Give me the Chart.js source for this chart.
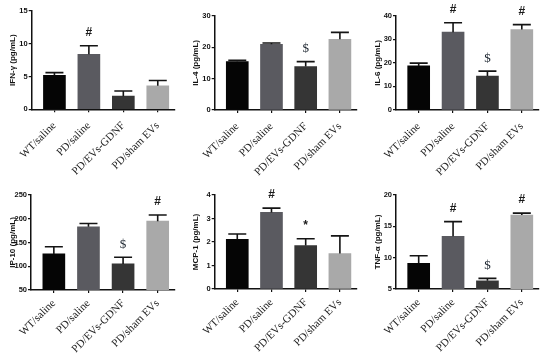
<!DOCTYPE html>
<html>
<head>
<meta charset="utf-8">
<script src="https://cdn.jsdelivr.net/npm/chart.js@4"></script>
<style>
  body { margin: 0; background: #fff; }
  #wrap { position: relative; width: 550px; height: 353px; overflow: hidden; }
  #wrap canvas { position: absolute; }
</style>
</head>
<body>
<div id="wrap">
  <canvas id="c1"></canvas>
  <canvas id="c2"></canvas>
  <canvas id="c3"></canvas>
  <canvas id="c4"></canvas>
  <canvas id="c5"></canvas>
  <canvas id="c6"></canvas>
</div>
<script>
// groups (x categories)
const groups = ['WT/saline', 'PD/saline', 'PD/EVs-GDNF', 'PD/sham EVs'];
const barColors = ['#050505', '#5a5a60', '#353535', '#a9a9a9'];

// means and upper error (SEM)
const ifnMean = [5.2, 8.4, 2.0, 3.6];
const ifnErr = [0.4, 1.3, 0.8, 0.8];
const ifnMarks = ['', '#', '', ''];

const il4Mean = [15.4, 20.9, 13.8, 22.5];
const il4Err = [0.4, 0.4, 1.6, 2.2];
const il4Marks = ['', '', '$', ''];

const il6Mean = [18.7, 33.0, 14.4, 34.1];
const il6Err = [1.2, 4.0, 2.1, 2.1];
const il6Marks = ['', '#', '$', '#'];

const ip10Mean = [126, 183, 105, 195];
const ip10Err = [15, 7, 14, 13];
const ip10Marks = ['', '', '$', '#'];

const mcpMean = [2.11, 3.26, 1.85, 1.51];
const mcpErr = [0.23, 0.18, 0.29, 0.75];
const mcpMarks = ['', '#', '*', ''];

const tnfMean = [9.1, 13.4, 6.3, 16.8];
const tnfErr = [1.2, 2.35, 0.4, 0.3];
const tnfMarks = ['', '#', '$', '#'];

// y axis ranges: [min, max, step]
const ifnAxis = [0, 15, 5];
const il4Axis = [0, 30, 10];
const il6Axis = [0, 40, 10];
const ip10Axis = [50, 250, 50];
const mcpAxis = [0, 4, 1];
const tnfAxis = [5, 20, 5];

const panels = [
    { id: 'c1', title: 'IFN-γ (pg/mL)', mean: ifnMean, err: ifnErr, marks: ifnMarks, axis: ifnAxis },
    { id: 'c2', title: 'IL-4 (pg/mL)', mean: il4Mean, err: il4Err, marks: il4Marks, axis: il4Axis },
    { id: 'c3', title: 'IL-6 (pg/mL)', mean: il6Mean, err: il6Err, marks: il6Marks, axis: il6Axis },
    { id: 'c4', title: 'IP-10 (pg/mL)', mean: ip10Mean, err: ip10Err, marks: ip10Marks, axis: ip10Axis },
    { id: 'c5', title: 'MCP-1 (pg/mL)', mean: mcpMean, err: mcpErr, marks: mcpMarks, axis: mcpAxis },
    { id: 'c6', title: 'TNF-α (pg/mL)', mean: tnfMean, err: tnfErr, marks: tnfMarks, axis: tnfAxis }
];

// canvas placement and plot box (local px): left, top, w, h, axisX, plotTop, plotBottom, plotRight, labelPad
const boxes = [
    [0, 0, 183, 176, 31.7, 11, 109.3, 175, 7],
    [183, 0, 182, 176, 31.7, 15.7, 110, 174, 7],
    [365, 0, 185, 176, 31, 15.7, 110, 174, 7],
    [0, 176, 183, 177, 31, 19, 114, 175, 4],
    [183, 176, 182, 177, 31.7, 19, 113, 174, 4],
    [365, 176, 185, 177, 31, 19, 113, 174, 4]
];

// ------------------------------------------------------------------------------------

const errorBars = {
    id: 'errorBars',
    afterDatasetsDraw(chart) {
        const ctx = chart.ctx;
        const y = chart.scales.y;
        const ds = chart.data.datasets[0];
        const meta = chart.getDatasetMeta(0);
        ctx.save();
        meta.data.forEach((bar, i) => {
            const top = y.getPixelForValue(ds.data[i].y + ds.err[i]);
            ctx.strokeStyle = '#141414';
            ctx.lineWidth = 1.6;
            ctx.beginPath();
            ctx.moveTo(bar.x, bar.y);
            ctx.lineTo(bar.x, top);
            ctx.moveTo(bar.x - 9, top);
            ctx.lineTo(bar.x + 9, top);
            ctx.stroke();

            if (ds.marks[i]) {
                ctx.fillStyle = ds.marks[i] === '$' ? '#1d2630' : '#1a1a1a';
                ctx.font = ds.marks[i] === '$' ? '13px "Liberation Serif"' : 'bold 12px "Liberation Sans"';
                ctx.textAlign = 'center';
                ctx.textBaseline = 'middle';
                ctx.fillText(ds.marks[i], bar.x, top - 13);
            }
        });
        ctx.restore();
    }
};

panels.forEach((p, k) => {
    const b = boxes[k];
    const canvas = document.getElementById(p.id);
    canvas.width = b[2];
    canvas.height = b[3];
    canvas.style.left = b[0] + 'px';
    canvas.style.top = b[1] + 'px';

    new Chart(canvas.getContext('2d'), {
        type: 'bar',
        data: {
            datasets: [{
                data: p.mean.map((v, i) => ({ x: i, y: v })),
                err: p.err,
                marks: p.marks,
                backgroundColor: barColors,
                barThickness: 22
            }]
        },
        options: {
            responsive: false,
            animation: false,
            devicePixelRatio: 1,
            layout: { padding: { top: b[5], right: b[2] - b[7], left: 0, bottom: 0 } },
            plugins: { legend: { display: false }, tooltip: { enabled: false } },
            scales: {
                x: {
                    type: 'linear',
                    offset: false,
                    min: -0.66,
                    max: 3.5,
                    grid: { offset: false, drawOnChartArea: false, tickLength: 3, color: '#111', lineWidth: 1.2 },
                    border: { color: '#111', width: 1.5 },
                    ticks: {
                        stepSize: 1,
                        includeBounds: false,
                        autoSkip: false,
                        maxRotation: 45,
                        minRotation: 45,
                        padding: b[8],
                        color: '#222',
                        font: { family: 'Liberation Serif', size: 11 },
                        callback: v => groups[v] ?? ''
                    },
                    afterFit: s => { s.height = b[3] - b[6]; }
                },
                y: {
                    min: p.axis[0],
                    max: p.axis[1],
                    grid: { drawOnChartArea: false, tickLength: 3, color: '#111', lineWidth: 1.2 },
                    border: { color: '#111', width: 1.5 },
                    ticks: {
                        stepSize: p.axis[2],
                        padding: 1,
                        color: '#111',
                        font: { family: 'Liberation Sans', size: 7.5, weight: 'bold' }
                    },
                    title: {
                        display: true,
                        text: p.title,
                        color: '#111',
                        padding: { top: 8, bottom: 0 },
                        font: { family: 'Liberation Sans', size: 8, weight: 'bold' }
                    },
                    afterFit: s => { s.width = b[4]; }
                }
            }
        },
        plugins: [errorBars]
    });
});
</script>
</body>
</html>
